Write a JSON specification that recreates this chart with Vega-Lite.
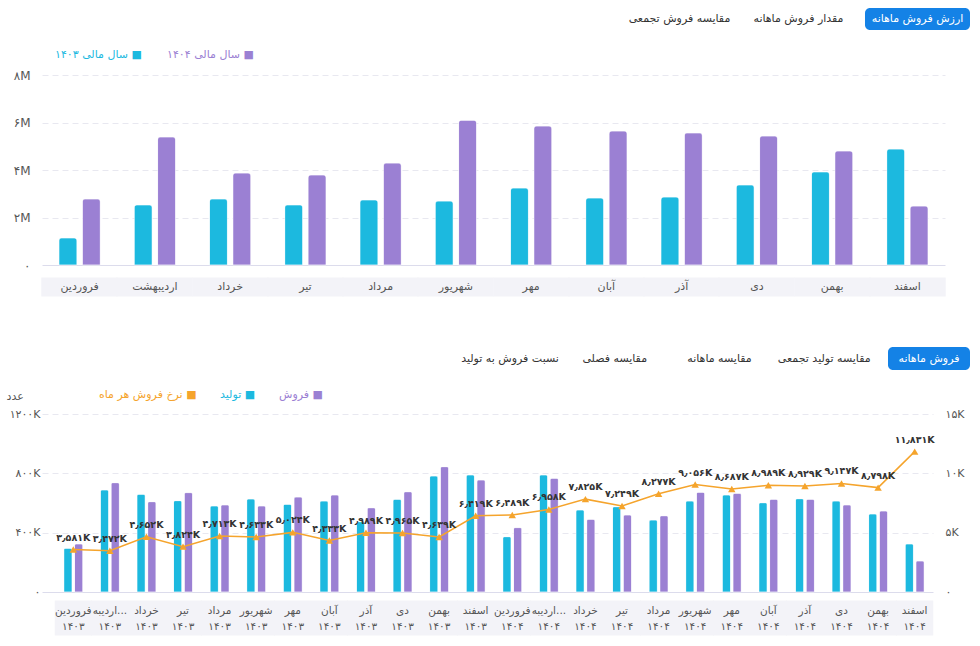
{
  "$schema": "https://vega.github.io/schema/vega-lite/v6.json",
  "background": "white",
  "padding": {"left": 6, "top": 8, "right": 10, "bottom": 11},
  "bounds": "flush",
  "spacing": 20,
  "resolve": {"scale": {"color": "independent", "xOffset": "independent", "x": "independent", "y": "independent"}, "legend": {"color": "independent"}},
  "config": {
    "view": {"stroke": null},
    "font": "DejaVu Sans",
    "axis": {"labelColor": "#555555", "labelFontSize": 11, "domain": false, "ticks": false, "gridColor": "#e6e6f0"}
  },
  "datasets": {
    "tabs1": [
      {"tab": "مقایسه فروش تجمعی", "active": false},
      {"tab": "مقدار فروش ماهانه", "active": false},
      {"tab": "ارزش فروش ماهانه", "active": true}
    ],
    "tabs2": [
      {"tab": "نسبت فروش به تولید", "active": false},
      {"tab": "مقایسه فصلی", "active": false},
      {"tab": "مقایسه ماهانه", "active": false},
      {"tab": "مقایسه تولید تجمعی", "active": false},
      {"tab": "فروش ماهانه", "active": true}
    ],
    "top": [
      {"month": "فروردین", "series": "سال مالی ۱۴۰۳", "value": 1140000},
      {"month": "فروردین", "series": "سال مالی ۱۴۰۴", "value": 2780000},
      {"month": "اردیبهشت", "series": "سال مالی ۱۴۰۳", "value": 2530000},
      {"month": "اردیبهشت", "series": "سال مالی ۱۴۰۴", "value": 5390000},
      {"month": "خرداد", "series": "سال مالی ۱۴۰۳", "value": 2780000},
      {"month": "خرداد", "series": "سال مالی ۱۴۰۴", "value": 3870000},
      {"month": "تیر", "series": "سال مالی ۱۴۰۳", "value": 2530000},
      {"month": "تیر", "series": "سال مالی ۱۴۰۴", "value": 3790000},
      {"month": "مرداد", "series": "سال مالی ۱۴۰۳", "value": 2740000},
      {"month": "مرداد", "series": "سال مالی ۱۴۰۴", "value": 4290000},
      {"month": "شهریور", "series": "سال مالی ۱۴۰۳", "value": 2690000},
      {"month": "شهریور", "series": "سال مالی ۱۴۰۴", "value": 6100000},
      {"month": "مهر", "series": "سال مالی ۱۴۰۳", "value": 3240000},
      {"month": "مهر", "series": "سال مالی ۱۴۰۴", "value": 5850000},
      {"month": "آبان", "series": "سال مالی ۱۴۰۳", "value": 2820000},
      {"month": "آبان", "series": "سال مالی ۱۴۰۴", "value": 5640000},
      {"month": "آذر", "series": "سال مالی ۱۴۰۳", "value": 2860000},
      {"month": "آذر", "series": "سال مالی ۱۴۰۴", "value": 5560000},
      {"month": "دی", "series": "سال مالی ۱۴۰۳", "value": 3370000},
      {"month": "دی", "series": "سال مالی ۱۴۰۴", "value": 5430000},
      {"month": "بهمن", "series": "سال مالی ۱۴۰۳", "value": 3920000},
      {"month": "بهمن", "series": "سال مالی ۱۴۰۴", "value": 4800000},
      {"month": "اسفند", "series": "سال مالی ۱۴۰۳", "value": 4880000},
      {"month": "اسفند", "series": "سال مالی ۱۴۰۴", "value": 2480000}
    ],
    "bars2": [
      {"period": "فروردین|۱۴۰۳", "series": "تولید", "value": 295000},
      {"period": "فروردین|۱۴۰۳", "series": "فروش", "value": 324000},
      {"period": "اردیبهشت|۱۴۰۳", "series": "تولید", "value": 688000},
      {"period": "اردیبهشت|۱۴۰۳", "series": "فروش", "value": 737000},
      {"period": "خرداد|۱۴۰۳", "series": "تولید", "value": 659000},
      {"period": "خرداد|۱۴۰۳", "series": "فروش", "value": 609000},
      {"period": "تیر|۱۴۰۳", "series": "تولید", "value": 616000},
      {"period": "تیر|۱۴۰۳", "series": "فروش", "value": 670000},
      {"period": "مرداد|۱۴۰۳", "series": "تولید", "value": 580000},
      {"period": "مرداد|۱۴۰۳", "series": "فروش", "value": 587000},
      {"period": "شهریور|۱۴۰۳", "series": "تولید", "value": 627000},
      {"period": "شهریور|۱۴۰۳", "series": "فروش", "value": 580000},
      {"period": "مهر|۱۴۰۳", "series": "تولید", "value": 591000},
      {"period": "مهر|۱۴۰۳", "series": "فروش", "value": 640000},
      {"period": "آبان|۱۴۰۳", "series": "تولید", "value": 613000},
      {"period": "آبان|۱۴۰۳", "series": "فروش", "value": 654000},
      {"period": "آذر|۱۴۰۳", "series": "تولید", "value": 474000},
      {"period": "آذر|۱۴۰۳", "series": "فروش", "value": 568000},
      {"period": "دی|۱۴۰۳", "series": "تولید", "value": 625000},
      {"period": "دی|۱۴۰۳", "series": "فروش", "value": 676000},
      {"period": "بهمن|۱۴۰۳", "series": "تولید", "value": 782000},
      {"period": "بهمن|۱۴۰۳", "series": "فروش", "value": 845000},
      {"period": "اسفند|۱۴۰۳", "series": "تولید", "value": 789000},
      {"period": "اسفند|۱۴۰۳", "series": "فروش", "value": 755000},
      {"period": "فروردین|۱۴۰۴", "series": "تولید", "value": 373000},
      {"period": "فروردین|۱۴۰۴", "series": "فروش", "value": 434000},
      {"period": "اردیبهشت|۱۴۰۴", "series": "تولید", "value": 789000},
      {"period": "اردیبهشت|۱۴۰۴", "series": "فروش", "value": 767000},
      {"period": "خرداد|۱۴۰۴", "series": "تولید", "value": 553000},
      {"period": "خرداد|۱۴۰۴", "series": "فروش", "value": 490000},
      {"period": "تیر|۱۴۰۴", "series": "تولید", "value": 575000},
      {"period": "تیر|۱۴۰۴", "series": "فروش", "value": 519000},
      {"period": "مرداد|۱۴۰۴", "series": "تولید", "value": 485000},
      {"period": "مرداد|۱۴۰۴", "series": "فروش", "value": 514000},
      {"period": "شهریور|۱۴۰۴", "series": "تولید", "value": 613000},
      {"period": "شهریور|۱۴۰۴", "series": "فروش", "value": 672000},
      {"period": "مهر|۱۴۰۴", "series": "تولید", "value": 654000},
      {"period": "مهر|۱۴۰۴", "series": "فروش", "value": 665000},
      {"period": "آبان|۱۴۰۴", "series": "تولید", "value": 602000},
      {"period": "آبان|۱۴۰۴", "series": "فروش", "value": 625000},
      {"period": "آذر|۱۴۰۴", "series": "تولید", "value": 629000},
      {"period": "آذر|۱۴۰۴", "series": "فروش", "value": 625000},
      {"period": "دی|۱۴۰۴", "series": "تولید", "value": 613000},
      {"period": "دی|۱۴۰۴", "series": "فروش", "value": 587000},
      {"period": "بهمن|۱۴۰۴", "series": "تولید", "value": 526000},
      {"period": "بهمن|۱۴۰۴", "series": "فروش", "value": 546000},
      {"period": "اسفند|۱۴۰۴", "series": "تولید", "value": 324000},
      {"period": "اسفند|۱۴۰۴", "series": "فروش", "value": 209000}
    ],
    "rate": [
      {"period": "فروردین|۱۴۰۳", "rate": 3581, "label": "۳٫۵۸۱K"},
      {"period": "اردیبهشت|۱۴۰۳", "rate": 3472, "label": "۳٫۴۷۲K"},
      {"period": "خرداد|۱۴۰۳", "rate": 4652, "label": "۴٫۶۵۲K"},
      {"period": "تیر|۱۴۰۳", "rate": 3824, "label": "۳٫۸۲۴K"},
      {"period": "مرداد|۱۴۰۳", "rate": 4713, "label": "۴٫۷۱۳K"},
      {"period": "شهریور|۱۴۰۳", "rate": 4633, "label": "۴٫۶۳۳K"},
      {"period": "مهر|۱۴۰۳", "rate": 5024, "label": "۵٫۰۲۴K"},
      {"period": "آبان|۱۴۰۳", "rate": 4333, "label": "۴٫۳۳۳K"},
      {"period": "آذر|۱۴۰۳", "rate": 4989, "label": "۴٫۹۸۹K"},
      {"period": "دی|۱۴۰۳", "rate": 4965, "label": "۴٫۹۶۵K"},
      {"period": "بهمن|۱۴۰۳", "rate": 4639, "label": "۴٫۶۳۹K"},
      {"period": "اسفند|۱۴۰۳", "rate": 6419, "label": "۶٫۴۱۹K"},
      {"period": "فروردین|۱۴۰۴", "rate": 6489, "label": "۶٫۴۸۹K"},
      {"period": "اردیبهشت|۱۴۰۴", "rate": 6958, "label": "۶٫۹۵۸K"},
      {"period": "خرداد|۱۴۰۴", "rate": 7825, "label": "۷٫۸۲۵K"},
      {"period": "تیر|۱۴۰۴", "rate": 7249, "label": "۷٫۲۴۹K"},
      {"period": "مرداد|۱۴۰۴", "rate": 8277, "label": "۸٫۲۷۷K"},
      {"period": "شهریور|۱۴۰۴", "rate": 9056, "label": "۹٫۰۵۶K"},
      {"period": "مهر|۱۴۰۴", "rate": 8687, "label": "۸٫۶۸۷K"},
      {"period": "آبان|۱۴۰۴", "rate": 8989, "label": "۸٫۹۸۹K"},
      {"period": "آذر|۱۴۰۴", "rate": 8929, "label": "۸٫۹۲۹K"},
      {"period": "دی|۱۴۰۴", "rate": 9147, "label": "۹٫۱۴۷K"},
      {"period": "بهمن|۱۴۰۴", "rate": 8798, "label": "۸٫۷۹۸K"},
      {"period": "اسفند|۱۴۰۴", "rate": 11831, "label": "۱۱٫۸۳۱K"}
    ]
  },
  "vconcat": [
    {
      "width": 928,
      "height": 47,
      "data": {"name": "tabs1"},
      "encoding": {
        "x": {"field": "tab", "type": "nominal", "axis": null, "scale": {"type": "band", "domain": ["·1", "·2", "·3", "·4", "مقایسه فروش تجمعی", "مقدار فروش ماهانه", "ارزش فروش ماهانه"], "paddingInner": 0.1176, "paddingOuter": 0.458, "align": 1}},
        "y": {"datum": "tab", "type": "nominal", "axis": null, "scale": {"type": "band", "domain": ["tab"], "paddingInner": 0, "paddingOuter": 0.568, "align": 0}}
      },
      "layer": [
        {"transform": [{"filter": "datum.active == true"}], "mark": {"type": "bar", "color": "#1482e6", "cornerRadius": 5}},
        {"mark": {"type": "text", "fontSize": 11}, "encoding": {"text": {"field": "tab"}, "color": {"condition": {"test": "datum.active == true", "value": "#ffffff"}, "value": "#333333"}}}
      ]
    },
    {
      "width": 903,
      "height": 190,
      "data": {"name": "top"},
      "mark": {"type": "bar", "cornerRadiusTopLeft": 3, "cornerRadiusTopRight": 3, "stroke": "#ffffff", "strokeOpacity": 0.4, "strokeWidth": 1},
      "encoding": {
        "x": {"field": "month", "type": "nominal", "scale": {"domain": ["فروردین", "اردیبهشت", "خرداد", "تیر", "مرداد", "شهریور", "مهر", "آبان", "آذر", "دی", "بهمن", "اسفند"], "paddingInner": 0.45, "paddingOuter": 0.225},
          "axis": {"title": null, "domain": false, "offset": 12, "ticks": true, "tickSize": 19, "tickWidth": 76.5, "tickColor": "#f3f3f8", "tickCap": "butt", "labelPadding": -9.5, "labelBaseline": "middle", "labelAngle": 0, "labelFontSize": 11}},
        "xOffset": {"field": "series", "type": "nominal", "scale": {"domain": ["سال مالی ۱۴۰۳", "سال مالی ۱۴۰۴"], "paddingInner": 0.23}},
        "y": {"field": "value", "type": "quantitative", "scale": {"domain": [0, 8000000]},
          "axis": {"title": null, "values": [0, 2000000, 4000000, 6000000, 8000000], "labelPadding": 12, "labelFontSize": 12,
            "labelExpr": "datum.value == 0 ? '۰' : datum.value == 2000000 ? '۲M' : datum.value == 4000000 ? '۴M' : datum.value == 6000000 ? '۶M' : '۸M'",
            "gridDash": {"condition": {"test": "datum.value == 0", "value": []}, "value": [6, 4]},
            "gridColor": {"condition": {"test": "datum.value == 0", "value": "#dcdcec"}, "value": "#e8e8f0"}}},
        "color": {"field": "series", "type": "nominal", "scale": {"domain": ["سال مالی ۱۴۰۳", "سال مالی ۱۴۰۴"], "range": ["#1cb9df", "#9b80d3"]},
          "legend": {"orient": "none", "legendX": 2, "legendY": -26, "direction": "horizontal", "title": null, "symbolSize": 0, "symbolOpacity": 0, "symbolStrokeWidth": 0, "labelOffset": 0, "columnPadding": 14, "labelFontSize": 11,
            "labelExpr": "datum.label + ' ■'",
            "labelColor": {"expr": "datum.value == 'سال مالی ۱۴۰۳' ? '#1cb9df' : '#9b80d3'"}}}
      }
    },
    {
      "width": 928,
      "height": 109,
      "data": {"name": "tabs2"},
      "encoding": {
        "x": {"field": "tab", "type": "nominal", "axis": null, "scale": {"type": "band", "domain": ["·1", "·2", "·3", "نسبت فروش به تولید", "مقایسه فصلی", "مقایسه ماهانه", "مقایسه تولید تجمعی", "فروش ماهانه"], "paddingInner": 0.2172, "paddingOuter": 0.538, "align": 1}},
        "y": {"datum": "tab", "type": "nominal", "axis": null, "scale": {"type": "band", "domain": ["·a", "·b", "tab", "·d"], "paddingInner": 0, "paddingOuter": 0.37, "align": 0.941}}
      },
      "layer": [
        {"transform": [{"filter": "datum.active == true"}], "mark": {"type": "bar", "color": "#1482e6", "cornerRadius": 5}},
        {"mark": {"type": "text", "fontSize": 11}, "encoding": {"text": {"field": "tab"}, "color": {"condition": {"test": "datum.active == true", "value": "#ffffff"}, "value": "#333333"}}}
      ]
    },
    {
      "width": 891,
      "height": 178,
      "resolve": {"scale": {"y": "independent"}},
      "layer": [
        {
          "data": {"name": "bars2"},
          "mark": {"type": "bar", "cornerRadiusTopLeft": 2, "cornerRadiusTopRight": 2, "stroke": "#ffffff", "strokeOpacity": 0.4, "strokeWidth": 1},
          "encoding": {
            "x": {"field": "period", "type": "nominal",
              "scale": {"domain": ["فروردین|۱۴۰۳", "اردیبهشت|۱۴۰۳", "خرداد|۱۴۰۳", "تیر|۱۴۰۳", "مرداد|۱۴۰۳", "شهریور|۱۴۰۳", "مهر|۱۴۰۳", "آبان|۱۴۰۳", "آذر|۱۴۰۳", "دی|۱۴۰۳", "بهمن|۱۴۰۳", "اسفند|۱۴۰۳", "فروردین|۱۴۰۴", "اردیبهشت|۱۴۰۴", "خرداد|۱۴۰۴", "تیر|۱۴۰۴", "مرداد|۱۴۰۴", "شهریور|۱۴۰۴", "مهر|۱۴۰۴", "آبان|۱۴۰۴", "آذر|۱۴۰۴", "دی|۱۴۰۴", "بهمن|۱۴۰۴", "اسفند|۱۴۰۴"], "paddingInner": 0.48, "paddingOuter": 0.418, "align": 0.712},
              "axis": {"title": null, "domain": false, "offset": 8, "ticks": true, "tickSize": 35, "tickWidth": 37.6, "tickColor": "#f3f3f8", "tickCap": "butt", "labelPadding": -25, "labelBaseline": "middle", "labelAngle": 0, "labelFontSize": 10.5, "labelLineHeight": 16,
                "labelExpr": "split(replace(datum.label, 'اردیبهشت', 'اردیبه...'), '|')"}},
            "xOffset": {"field": "series", "type": "nominal", "scale": {"domain": ["تولید", "فروش"], "paddingInner": 0.23}},
            "y": {"field": "value", "type": "quantitative", "scale": {"domain": [0, 1200000]},
              "axis": {"orient": "left", "values": [0, 400000, 800000, 1200000], "labelPadding": 2, "labelFontSize": 11,
                "labelExpr": "datum.value == 0 ? '۰' : datum.value == 400000 ? '۴۰۰K' : datum.value == 800000 ? '۸۰۰K' : '۱۲۰۰K'",
                "title": "عدد", "titleAngle": 0, "titleX": -36, "titleY": -18, "titleAlign": "left", "titleBaseline": "middle", "titleFontWeight": "normal", "titleFontSize": 11, "titleColor": "#555555",
                "gridDash": {"condition": {"test": "datum.value == 0", "value": []}, "value": [6, 4]},
                "gridColor": {"condition": {"test": "datum.value == 0", "value": "#dcdcec"}, "value": "#e8e8f0"}}},
            "color": {"field": "series", "type": "nominal", "scale": {"domain": ["نرخ فروش هر ماه", "تولید", "فروش"], "range": ["#f5a42c", "#1cb9df", "#9b80d3"]},
              "legend": {"orient": "none", "legendX": 46, "legendY": -25, "direction": "horizontal", "title": null, "symbolSize": 0, "symbolOpacity": 0, "symbolStrokeWidth": 0, "labelOffset": 0, "columnPadding": 12, "labelFontSize": 11,
                "labelExpr": "datum.label + ' ■'",
                "labelColor": {"expr": "datum.value == 'فروش' ? '#9b80d3' : datum.value == 'تولید' ? '#1cb9df' : '#f5a42c'"}}}
          }
        },
        {
          "data": {"name": "rate"},
          "encoding": {
            "x": {"field": "period", "type": "nominal"},
            "y": {"field": "rate", "type": "quantitative", "scale": {"domain": [0, 15000]},
              "axis": {"orient": "right", "title": null, "grid": false, "values": [0, 5000, 10000, 15000], "labelPadding": 12, "labelFontSize": 11,
                "labelExpr": "datum.value == 0 ? '۰' : datum.value == 5000 ? '۵K' : datum.value == 10000 ? '۱۰K' : '۱۵K'"}}
          },
          "layer": [
            {"mark": {"type": "line", "color": "#f5a42c", "strokeWidth": 1.5}},
            {"mark": {"type": "point", "shape": "triangle-up", "filled": true, "size": 55, "color": "#f5a42c", "opacity": 1}},
            {"mark": {"type": "text", "baseline": "bottom", "dy": -7, "fontSize": 9.5, "fontWeight": "bold", "color": "#333333"}, "encoding": {"text": {"field": "label"}}}
          ]
        }
      ]
    }
  ]
}
